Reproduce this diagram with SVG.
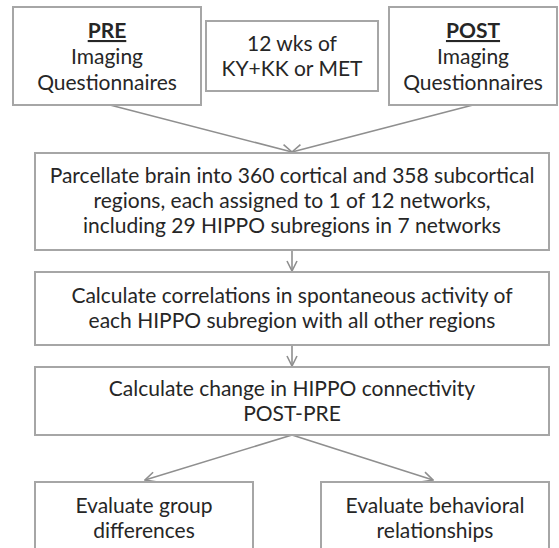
<svg xmlns="http://www.w3.org/2000/svg" width="559" height="548" viewBox="0 0 559 548">
  <defs>
    <marker id="chev" viewBox="0 0 12 12" refX="11" refY="6" markerWidth="12" markerHeight="12" markerUnits="userSpaceOnUse" orient="auto">
      <path d="M1,1 L11,6 L1,11" fill="none" stroke="#8f8f8f" stroke-width="1.6"/>
    </marker>
  </defs>
  <style>
    .box { fill: #ffffff; stroke: #a6a6a6; stroke-width: 2; }
    .t { font-family: Lato, "Open Sans", "Liberation Sans", sans-serif; font-size: 21px; fill: #262626; text-anchor: middle; }
    .b { font-weight: bold; text-decoration: underline; }
    .c { fill: none; stroke: #8f8f8f; stroke-width: 1.6; marker-end: url(#chev); }
  </style>
  <rect width="559" height="548" fill="#ffffff"/>
  <g id="connectors">
    <line class="c" x1="110" y1="105" x2="292" y2="152"/>
    <line class="c" x1="473" y1="105" x2="292" y2="152"/>
    <line class="c" x1="292" y1="250" x2="292" y2="271"/>
    <line class="c" x1="292" y1="345" x2="292" y2="366"/>
    <line class="c" x1="292" y1="435" x2="145" y2="480"/>
    <line class="c" x1="292" y1="435" x2="433" y2="480"/>
  </g>
  <g id="pre">
    <rect class="box" x="13" y="7" width="188" height="98"/>
    <text class="t b" x="107" y="38">PRE</text>
    <text class="t" x="107" y="64">Imaging</text>
    <text class="t" x="107" y="90">Questionnaires</text>
  </g>
  <g id="intervention">
    <rect class="box" x="206" y="21" width="172" height="70"/>
    <text class="t" x="292" y="51">12 wks of</text>
    <text class="t" x="292" y="76">KY+KK or MET</text>
  </g>
  <g id="post">
    <rect class="box" x="389" y="7" width="168" height="98"/>
    <text class="t b" x="473" y="38">POST</text>
    <text class="t" x="473" y="64">Imaging</text>
    <text class="t" x="473" y="90">Questionnaires</text>
  </g>
  <g id="parcellate">
    <rect class="box" x="35" y="153" width="514" height="97"/>
    <text class="t" x="292" y="183">Parcellate brain into 360 cortical and 358 subcortical</text>
    <text class="t" x="292" y="208">regions, each assigned to 1 of 12 networks,</text>
    <text class="t" x="292" y="233">including 29 HIPPO subregions in 7 networks</text>
  </g>
  <g id="correlations">
    <rect class="box" x="35" y="272" width="514" height="73"/>
    <text class="t" x="292" y="303">Calculate correlations in spontaneous activity of</text>
    <text class="t" x="292" y="328">each HIPPO subregion with all other regions</text>
  </g>
  <g id="change">
    <rect class="box" x="35" y="367" width="514" height="68"/>
    <text class="t" x="292" y="396">Calculate change in HIPPO connectivity</text>
    <text class="t" x="292" y="421">POST-PRE</text>
  </g>
  <g id="group">
    <rect class="box" x="35" y="482" width="218" height="90"/>
    <text class="t" x="144" y="513">Evaluate group</text>
    <text class="t" x="144" y="538">differences</text>
  </g>
  <g id="behavior">
    <rect class="box" x="321" y="482" width="228" height="90"/>
    <text class="t" x="435" y="513">Evaluate behavioral</text>
    <text class="t" x="435" y="538">relationships</text>
  </g>
</svg>
